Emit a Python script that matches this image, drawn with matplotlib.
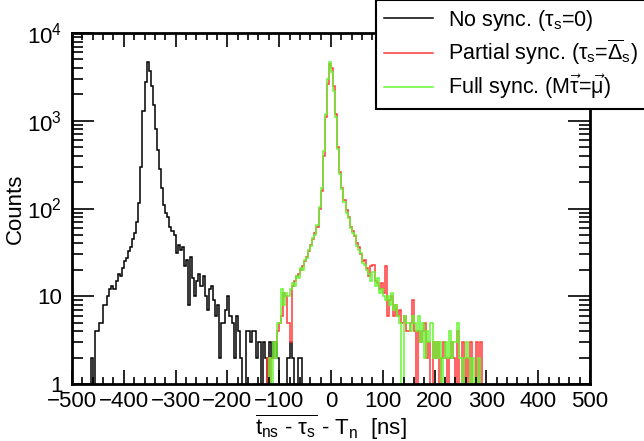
import numpy as np
import matplotlib
matplotlib.use("Agg")
import matplotlib.pyplot as plt
from matplotlib.ticker import FixedLocator, FixedFormatter, MultipleLocator
from matplotlib.lines import Line2D

plt.rcParams['font.family'] = ['Liberation Sans', 'DejaVu Sans']
plt.rcParams['mathtext.fontset'] = 'custom'
plt.rcParams['mathtext.rm'] = 'Liberation Sans'
plt.rcParams['mathtext.it'] = 'Liberation Sans'
plt.rcParams['mathtext.bf'] = 'Liberation Sans:bold'

bin_width = 4
# No sync. histogram: first bin left edge and counts
nosync_start = -468
nosync_counts = [0, 2, 0, 4, 4, 5, 5, 8, 8, 10, 12, 13, 12, 15, 18, 17, 21, 25, 27, 33,
                 36, 45, 52, 70, 115, 300, 1300, 2800, 4700, 3700, 2500, 1500, 800, 460,
                 280, 170, 110, 88, 80, 62, 55, 50, 31, 38, 34, 36, 22, 26, 8, 28, 16, 10,
                 15, 18, 13, 17, 10, 7, 12, 13, 9, 6, 8, 2, 5, 5, 7, 10, 6, 5, 2, 6, 4, 2,
                 0, 0, 4, 4, 3, 4, 4, 2, 3, 0, 3, 2, 0, 3, 2, 3, 3, 2, 0, 0, 0, 0, 2, 3, 2,
                 0, 0, 2, 2, 0]

sync_start = -132
partial_counts = [0, 0, 2, 0, 2, 2, 3, 4, 5, 6, 11, 10, 5, 3, 13, 15, 17, 18, 20, 22, 25,
                  28, 33, 38, 45, 52, 62, 100, 160, 400, 1100, 2600, 4400, 4000, 2500,
                  1200, 500, 260, 170, 125, 95, 80, 62, 55, 48, 40, 36, 30, 25, 26, 21, 17,
                  22, 23, 15, 14, 12, 14, 11, 22, 6, 9, 10, 6, 8, 6, 7, 5, 6, 4, 4, 5, 9,
                  4, 0, 4, 3, 4, 5, 2, 3, 0, 3, 2, 3, 0, 2, 3, 2, 0, 2, 3, 2, 0, 4, 0, 3,
                  0, 2, 0, 3, 0, 0, 3, 0, 3, 0, 0]
full_counts = [0, 0, 0, 2, 0, 3, 2, 5, 5, 12, 8, 11, 10, 12, 14, 13, 17, 16, 21, 20, 26,
               27, 34, 37, 46, 50, 65, 105, 170, 450, 1200, 3000, 4700, 3600, 2200, 1100,
               480, 250, 165, 120, 90, 78, 60, 52, 50, 37, 34, 31, 24, 23, 20, 18, 15, 19,
               13, 16, 11, 12, 10, 9, 10, 8, 11, 7, 8, 6, 5, 0, 6, 5, 5, 4, 6, 5, 4, 6, 3,
               5, 2, 4, 3, 5, 2, 3, 2, 3, 0, 2, 3, 2, 4, 2, 3, 3, 5, 2, 0, 2, 3, 2, 0, 2,
               0, 0, 2, 0, 0, 0]

labels = [r"No sync. ($\tau_{s}$=0)",
          r"Partial sync. ($\tau_{s}$=$\overline{\Delta}_{s}$)",
          r"Full sync. (M$\vec{\tau}$=$\vec{\mu}$)"]
colors = ['black', '#ff3b3b', '#66f532']

y_ticks = [1, 10, 100, 1000, 10000]
y_ticklabels = ['1', '10', r'$10^{2}$', r'$10^{3}$', r'$10^{4}$']


def edges_for(start, counts):
    return start + bin_width * np.arange(len(counts) + 1)


def plot_vals(counts):
    c = np.asarray(counts, dtype=float)
    return np.where(c > 0, c, 0.1)


fig = plt.figure(figsize=(6.44, 4.41), dpi=100)
ax = fig.add_axes([72/644, 1 - 384/441, (590-72)/644, (384-33)/441])

ax.stairs(plot_vals(nosync_counts), edges_for(nosync_start, nosync_counts),
          color=colors[0], lw=1.1, baseline=None)
ax.stairs(plot_vals(partial_counts), edges_for(sync_start, partial_counts),
          color=colors[1], lw=1.1, baseline=None)
ax.stairs(plot_vals(full_counts), edges_for(sync_start, full_counts),
          color=colors[2], lw=1.1, baseline=None)

ax.set_yscale('log')
ax.set_xlim(-500, 500)
ax.set_ylim(1, 10000)

ax.xaxis.set_major_locator(MultipleLocator(100))
ax.xaxis.set_minor_locator(MultipleLocator(20))
ax.yaxis.set_major_locator(FixedLocator(y_ticks))
ax.yaxis.set_major_formatter(FixedFormatter(y_ticklabels))

ax.tick_params(axis='both', which='both', direction='in', top=True, right=True,
               labelsize=16, width=1.2)
ax.tick_params(axis='x', which='major', length=10, pad=5)
ax.tick_params(axis='x', which='minor', length=5)
ax.tick_params(axis='y', which='major', length=16, pad=7)
ax.tick_params(axis='y', which='minor', length=8)
for s in ax.spines.values():
    s.set_linewidth(2)

ax.set_ylabel('Counts', fontsize=16)
ax.yaxis.set_label_coords(-0.09, 0.5)
ax.set_xlabel(r"$\overline{t_{ns}\ \text{-}\ \tau_{s}}$ - T$_{n}$  [ns]", fontsize=16)
ax.xaxis.set_label_coords(0.5, -0.082)

handles = [Line2D([], [], color=c, lw=1.1) for c in colors]
leg = fig.legend(handles, labels, loc='upper left', bbox_to_anchor=(376/644, 1.0),
                 fontsize=15.5, frameon=True, fancybox=False, framealpha=1,
                 edgecolor='black', handlelength=2.3, labelspacing=0.26,
                 borderpad=0.35, handletextpad=0.7, borderaxespad=0)
leg.get_frame().set_linewidth(1.5)

fig.savefig('out.png', dpi=100)
